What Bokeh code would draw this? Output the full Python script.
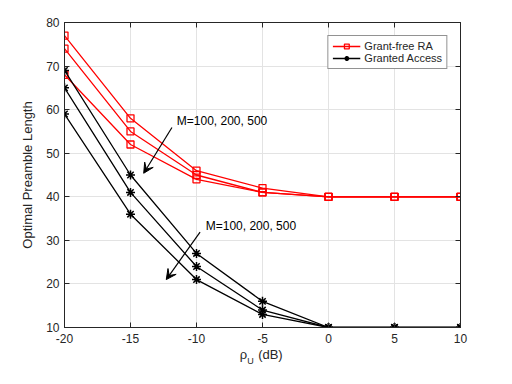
from bokeh.plotting import figure
from bokeh.models import (Range1d, LinearAxis, Label, Arrow, VeeHead, Legend,
                          LegendItem, FixedTicker)
from bokeh.embed import file_html
from bokeh.resources import INLINE

# ---- data ----
snr_db = [-20, -15, -10, -5, 0, 5, 10]
gf_M100 = [77, 58, 46, 42, 40, 40, 40]
gf_M200 = [74, 55, 45, 41, 40, 40, 40]
gf_M500 = [68, 52, 44, 41, 40, 40, 40]
ga_M100 = [69, 45, 27, 16, 10, 10, 10]
ga_M200 = [65, 41, 24, 14, 10, 10, 10]
ga_M500 = [59, 36, 21, 13, 10, 10, 10]
x_ticks = [-20, -15, -10, -5, 0, 5, 10]
y_ticks = [10, 20, 30, 40, 50, 60, 70, 80]
annot_text = "M=100, 200, 500"
xlabel_main = {-6.45: "ρ", -4.4: "(dB)"}
xlabel_sub = {-5.9: "U"}

FONT = "Liberation Sans"
AX = "#262626"

p = figure(width=496, height=368, x_range=Range1d(-20, 10), y_range=Range1d(10, 80),
           output_backend="svg", toolbar_location=None,
           min_border_left=64, min_border_right=36, min_border_top=22, min_border_bottom=40)
p.background_fill_color = "white"
p.outline_line_color = AX

def style_axis(ax, ticks, labels=True):
    ax.ticker = FixedTicker(ticks=ticks)
    ax.major_label_overrides = {t: str(t) for t in ticks}
    ax.axis_line_color = AX
    ax.major_tick_line_color = AX
    ax.major_tick_in = 5
    ax.major_tick_out = 0
    ax.minor_tick_line_color = None
    ax.major_label_text_font = FONT
    ax.major_label_text_font_size = "12px"
    ax.major_label_text_color = AX
    if not labels:
        ax.major_label_text_color = None
        ax.major_label_text_font_size = "1px"

style_axis(p.xaxis[0], x_ticks)
style_axis(p.yaxis[0], y_ticks)
p.xaxis[0].major_label_standoff = 6
p.yaxis[0].major_label_standoff = 5
p.yaxis[0].axis_label = "Optimal Preamble Length"
p.yaxis[0].axis_label_text_font = FONT
p.yaxis[0].axis_label_text_font_size = "13px"
p.yaxis[0].axis_label_text_font_style = "normal"
p.yaxis[0].axis_label_text_color = AX
p.yaxis[0].axis_label_standoff = 8

right = LinearAxis()
style_axis(right, y_ticks, labels=False)
p.add_layout(right, "right")
top = LinearAxis()
style_axis(top, x_ticks, labels=False)
p.add_layout(top, "above")

# x-axis title "rho_U (dB)" built from two label-only axes
def label_axis(labels, size, standoff):
    ax = LinearAxis(ticker=FixedTicker(ticks=list(labels.keys())),
                    major_label_overrides=labels)
    ax.axis_line_color = None
    ax.major_tick_line_color = None
    ax.major_tick_in = 0
    ax.major_tick_out = 0
    ax.minor_tick_line_color = None
    ax.major_label_text_font = FONT
    ax.major_label_text_font_size = size
    ax.major_label_text_color = AX
    ax.major_label_standoff = standoff
    return ax

p.add_layout(label_axis(xlabel_main, "13px", 1), "below")
p.add_layout(label_axis(xlabel_sub, "9px", -9), "below")

p.xgrid.ticker = FixedTicker(ticks=x_ticks)
p.ygrid.ticker = FixedTicker(ticks=y_ticks)
p.grid.grid_line_color = "#e3e3e3"
p.grid.grid_line_width = 1

RED = "#ff0000"
red_r = []
for ys in [gf_M100, gf_M200, gf_M500]:
    l = p.line(snr_db, ys, line_color=RED, line_width=1.3)
    s = p.scatter(snr_db, ys, marker="square", size=7, line_color=RED, fill_color=None, line_width=1.3)
    red_r.append((l, s))
blk_r = []
for ys in [ga_M100, ga_M200, ga_M500]:
    l = p.line(snr_db, ys, line_color="black", line_width=1.3)
    s = p.scatter(snr_db, ys, marker="asterisk", size=9, line_color="black", line_width=1.5)
    blk_r.append((l, s))

legend = Legend(items=[LegendItem(label="Grant-free RA", renderers=list(red_r[0])),
                       LegendItem(label="Granted Access", renderers=list(blk_r[0]))],
                location="top_right", margin=13, padding=4, spacing=0,
                glyph_width=28, glyph_height=12, label_height=12, label_width=75,
                label_standoff=4, label_text_font=FONT, label_text_font_size="11px",
                label_text_color=AX, border_line_color=AX, border_line_width=1,
                background_fill_color="white", background_fill_alpha=1)
p.add_layout(legend)

# annotations
p.add_layout(Arrow(end=VeeHead(size=10, fill_color="black", line_color="black", line_width=1),
                   x_start=-11.86, y_start=55.9, x_end=-14.0, y_end=45.4,
                   line_color="black", line_width=1.2))
p.add_layout(Arrow(end=VeeHead(size=10, fill_color="black", line_color="black", line_width=1),
                   x_start=-9.73, y_start=31.9, x_end=-12.29, y_end=21.0,
                   line_color="black", line_width=1.2))
p.add_layout(Label(x=-11.49, y=57.4, text=annot_text, text_baseline="middle",
                   text_font=FONT, text_font_size="12px", text_color="black"))
p.add_layout(Label(x=-9.3, y=33.4, text=annot_text, text_baseline="middle",
                   text_font=FONT, text_font_size="12px", text_color="black"))

open("out.html", "w").write(file_html(p, INLINE))
